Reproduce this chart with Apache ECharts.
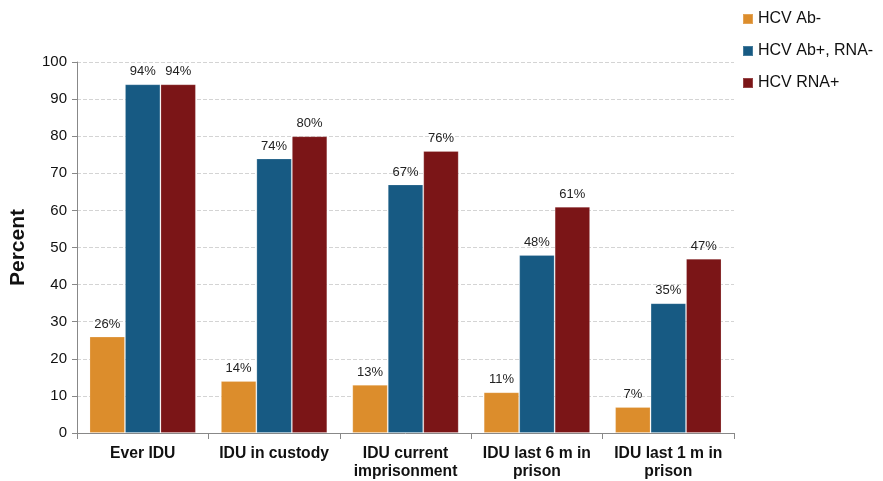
<!DOCTYPE html>
<html>
<head>
<meta charset="utf-8">
<script src="https://cdn.jsdelivr.net/npm/echarts@6/dist/echarts.min.js"></script>
<style>
  html, body { margin: 0; padding: 0; background: #fff; }
  #chart { width: 883px; height: 481px; }
</style>
</head>
<body>
<div id="chart"></div>
<script>
const categories = ['Ever IDU', 'IDU in custody', 'IDU current\nimprisonment', 'IDU last 6 m in\nprison', 'IDU last 1 m in\nprison']
const abNeg = [26, 14, 13, 11, 7]
const abPosRnaNeg = [94, 74, 67, 48, 35]
const rnaPos = [94, 80, 76, 61, 47]
const seriesNames = ['HCV Ab-', 'HCV Ab+, RNA-', 'HCV RNA+']
const colors = ['#dc8d2c', '#175a83', '#7b1517']

const chart = echarts.init(document.getElementById('chart'))

function makeSeries(name, data, color) {
  return {
    name: name,
    type: 'bar',
    data: data,
    barGap: '0%',
    barCategoryGap: '19%',
    itemStyle: { color: color, borderColor: 'rgba(255,255,255,0.2)', borderWidth: 1 },
    label: {
      show: true,
      position: 'top',
      formatter: '{c}%',
      fontSize: 13,
      color: '#222',
      fontFamily: 'Liberation Sans',
      distance: 6
    }
  }
}

const option = {
  animation: false,
  textStyle: { fontFamily: 'Liberation Sans' },
  grid: { left: 76, right: 149, top: 62, bottom: 48 },
  legend: {
    orient: 'vertical',
    left: 742,
    top: 11,
    padding: 0,
    itemWidth: 10,
    itemHeight: 10,
    itemGap: 16,
    icon: 'rect',
    data: seriesNames,
    textStyle: { fontSize: 16, color: '#111', fontFamily: 'Liberation Sans' }
  },
  xAxis: {
    type: 'category',
    data: categories,
    axisLine: { lineStyle: { color: '#888' } },
    axisTick: { show: true, length: 6, lineStyle: { color: '#888' } },
    axisLabel: {
      interval: 0,
      fontSize: 15.7,
      fontWeight: 'bold',
      color: '#111',
      lineHeight: 18,
      margin: 12
    }
  },
  yAxis: {
    type: 'value',
    min: 0,
    max: 100,
    interval: 10,
    name: 'Percent',
    nameLocation: 'middle',
    nameGap: 48,
    nameTextStyle: { fontSize: 21, fontWeight: 'bold', color: '#111' },
    axisLine: { show: true, lineStyle: { color: '#888' } },
    axisTick: { show: true, length: 5, lineStyle: { color: '#888' } },
    axisLabel: { fontSize: 15, color: '#111', margin: 10 },
    splitLine: { lineStyle: { type: 'dashed', color: '#d4d4d4' } }
  },
  series: [
    makeSeries(seriesNames[0], abNeg, colors[0]),
    makeSeries(seriesNames[1], abPosRnaNeg, colors[1]),
    makeSeries(seriesNames[2], rnaPos, colors[2])
  ]
}

chart.setOption(option, true)
</script>
</body>
</html>
